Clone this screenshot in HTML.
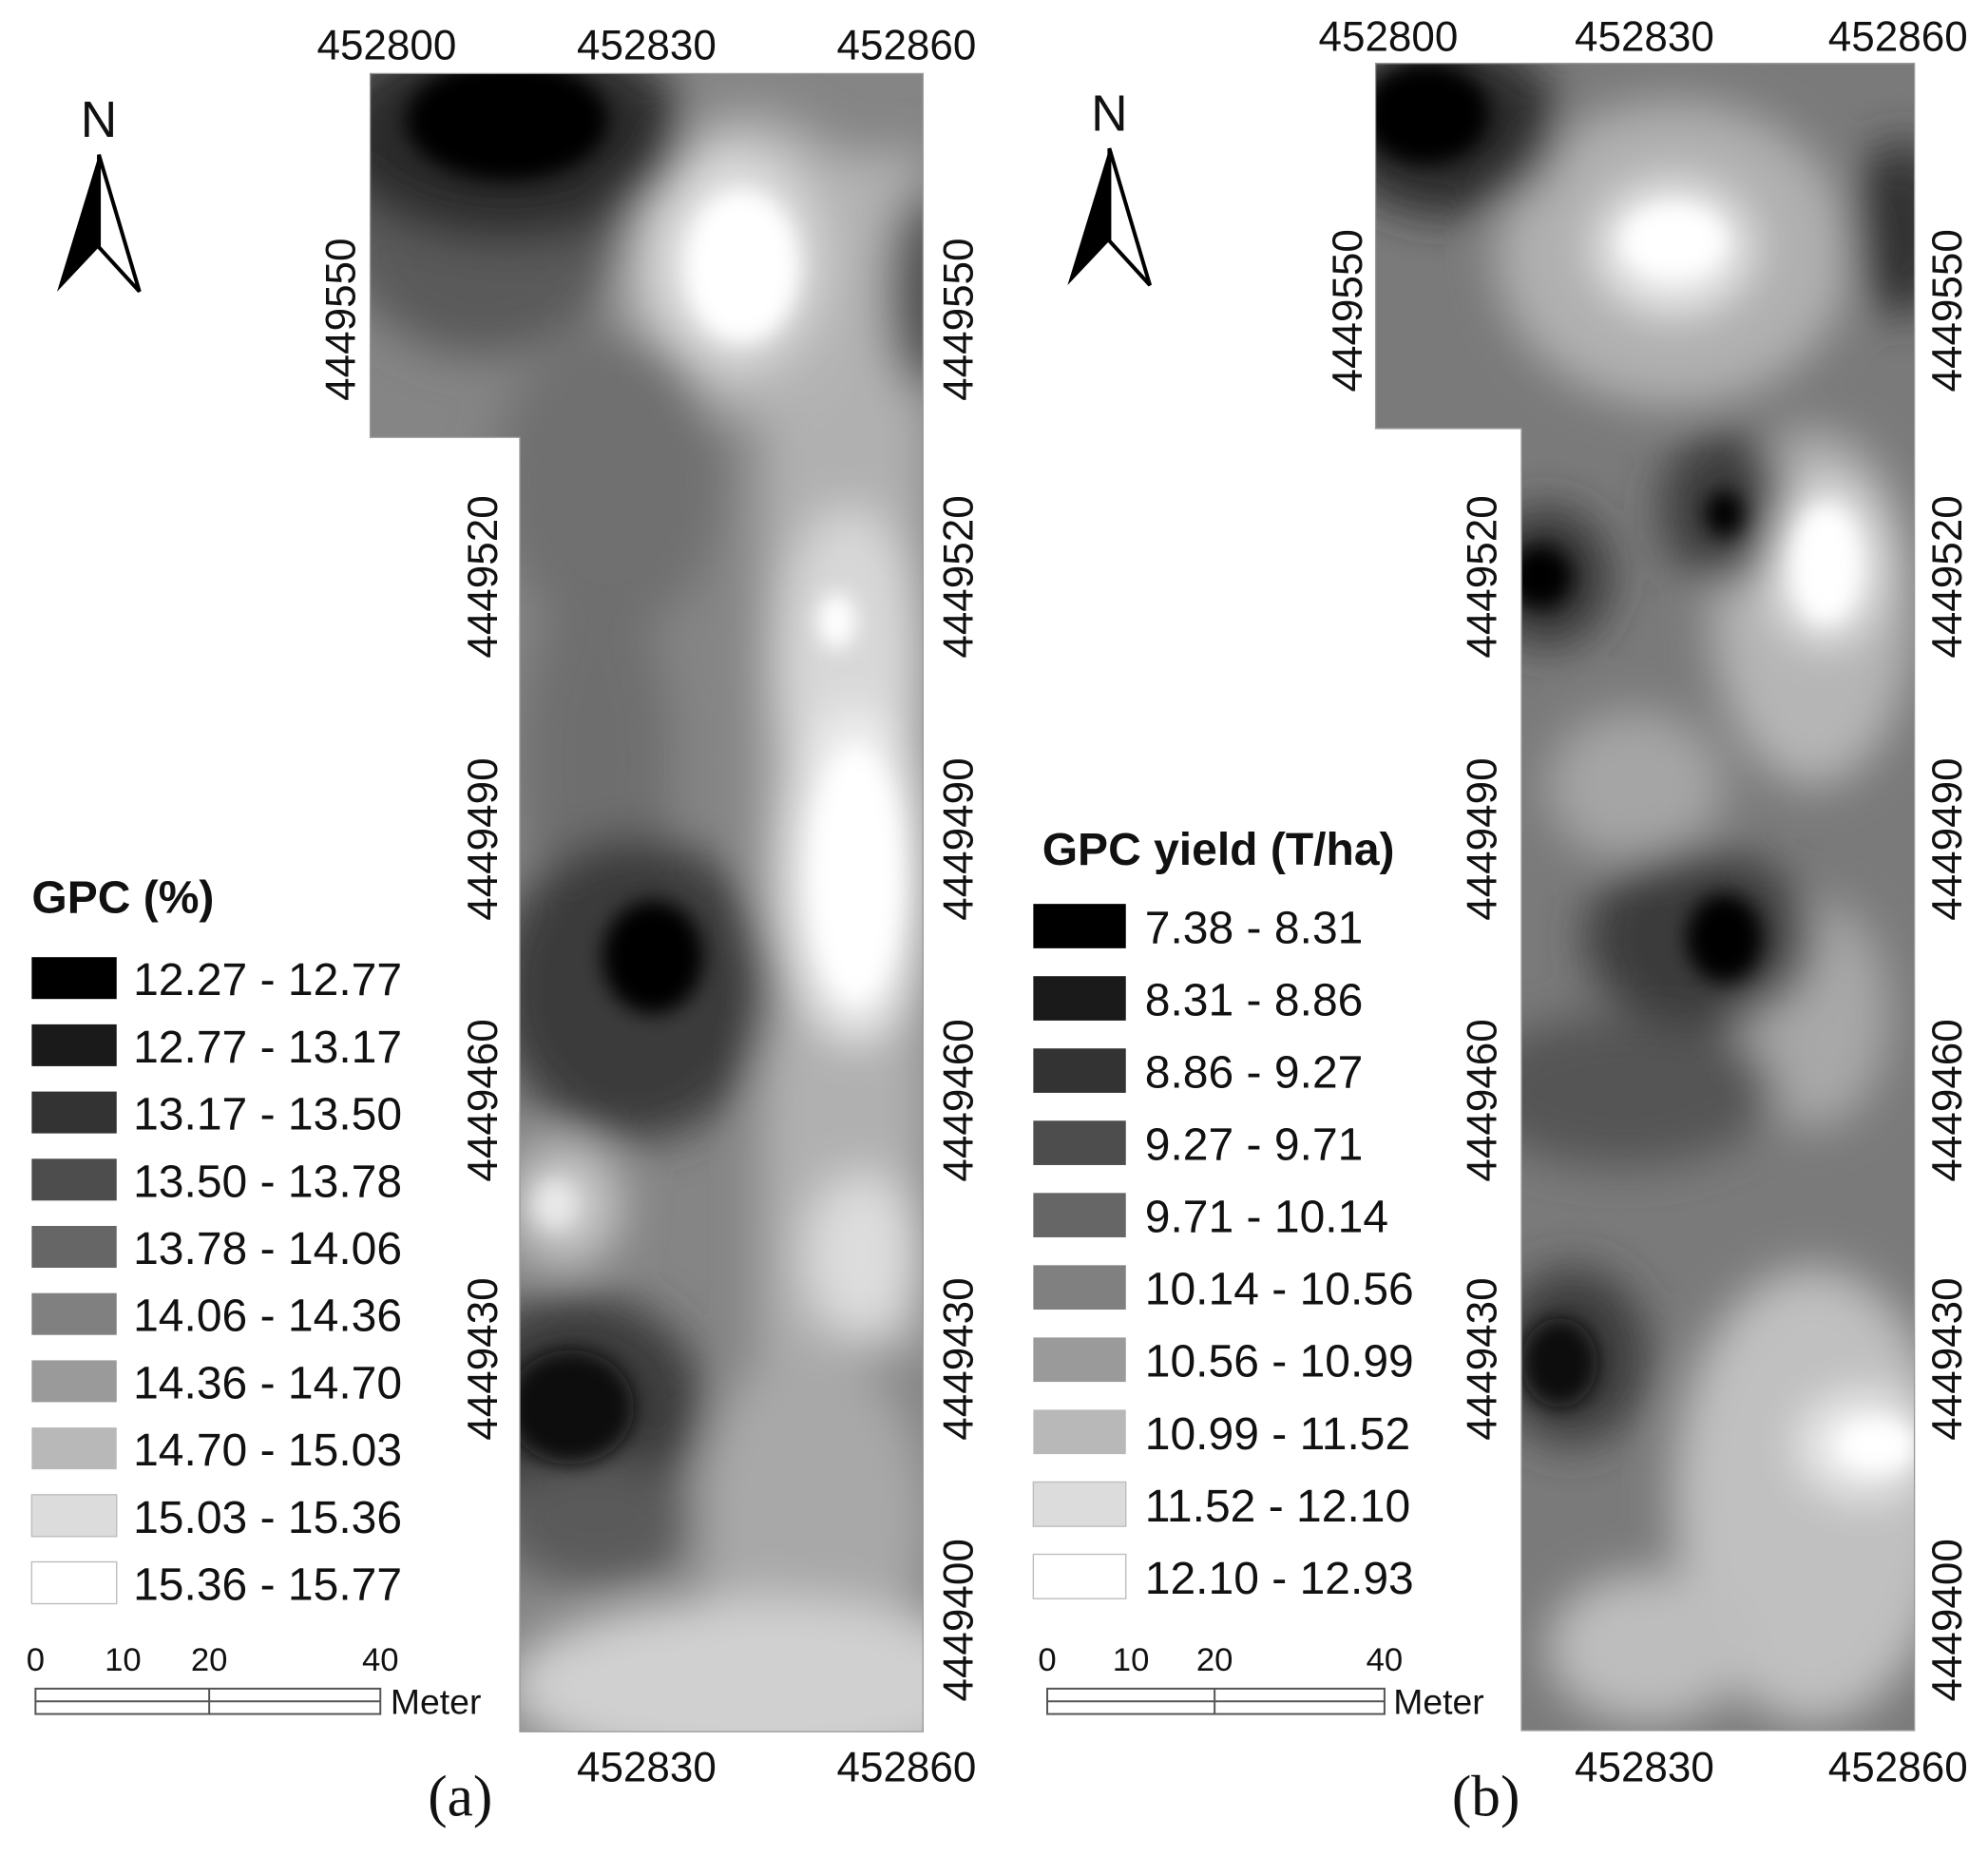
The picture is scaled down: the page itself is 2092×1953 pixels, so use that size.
<!DOCTYPE html>
<html><head><meta charset="utf-8"><style>
html,body{margin:0;padding:0;background:#fff;}
svg{display:block;}
text{font-family:"Liberation Sans",sans-serif;fill:#111;}
</style></head><body>
<svg width="2092" height="1953" viewBox="0 0 1568 1464" preserveAspectRatio="none" xmlns="http://www.w3.org/2000/svg">
<defs>
<filter id="bl" x="-50%" y="-50%" width="200%" height="200%"><feGaussianBlur stdDeviation="18"/></filter>
<filter id="bs" x="-50%" y="-50%" width="200%" height="200%"><feGaussianBlur stdDeviation="8"/></filter>
<clipPath id="ca"><path d="M292,58 H728 V1366 H410 V345 H292 Z"/></clipPath>
<clipPath id="cb"><path d="M1085,50 H1510 V1365 H1200 V338 H1085 Z"/></clipPath>
</defs>

<!-- Map A -->
<g clip-path="url(#ca)">
<rect x="280" y="40" width="460" height="1340" fill="#858585"/>
<g filter="url(#bl)">
<rect x="600" y="120" width="130" height="950" fill="#b0b0b0"/>
<ellipse cx="590" cy="210" rx="100" ry="120" fill="#b5b5b5"/>
<ellipse cx="380" cy="160" rx="120" ry="120" fill="#5a5a5a"/>
<ellipse cx="480" cy="380" rx="90" ry="120" fill="#707070"/>
<ellipse cx="470" cy="600" rx="60" ry="140" fill="#6e6e6e"/>
<ellipse cx="640" cy="1200" rx="90" ry="140" fill="#a8a8a8"/>
<ellipse cx="600" cy="1330" rx="200" ry="70" fill="#d0d0d0"/>
<ellipse cx="730" cy="230" rx="30" ry="80" fill="#505050"/>
<ellipse cx="400" cy="105" rx="140" ry="85" fill="#2a2a2a"/>
<ellipse cx="580" cy="205" rx="65" ry="85" fill="#e0e0e0"/>
<ellipse cx="670" cy="520" rx="55" ry="120" fill="#d8d8d8"/>
<ellipse cx="675" cy="690" rx="55" ry="130" fill="#f2f2f2"/>
<ellipse cx="500" cy="780" rx="110" ry="120" fill="#3a3a3a"/>
<ellipse cx="455" cy="1110" rx="100" ry="90" fill="#3a3a3a"/>
<ellipse cx="470" cy="1200" rx="80" ry="50" fill="#5a5a5a"/>
<ellipse cx="445" cy="950" rx="45" ry="50" fill="#c8c8c8"/>
<ellipse cx="680" cy="990" rx="45" ry="65" fill="#dddddd"/>
</g>
<g filter="url(#bs)">
<ellipse cx="400" cy="95" rx="80" ry="48" fill="#000"/>
<ellipse cx="585" cy="210" rx="45" ry="60" fill="#fff"/>
<ellipse cx="675" cy="690" rx="35" ry="100" fill="#fff"/>
<ellipse cx="660" cy="490" rx="15" ry="22" fill="#fff"/>
<ellipse cx="515" cy="755" rx="40" ry="45" fill="#000"/>
<ellipse cx="450" cy="1110" rx="50" ry="45" fill="#111"/>
<ellipse cx="438" cy="950" rx="18" ry="20" fill="#e8e8e8"/>
</g>
</g>
<path d="M292,58 H728 V1366 H410 V345 H292 Z" fill="none" stroke="#999" stroke-width="1"/>

<!-- Map B -->
<g clip-path="url(#cb)">
<rect x="1075" y="40" width="450" height="1340" fill="#7a7a7a"/>
<g filter="url(#bl)">
<ellipse cx="1320" cy="200" rx="140" ry="120" fill="#b0b0b0"/>
<ellipse cx="1430" cy="480" rx="80" ry="140" fill="#b5b5b5"/>
<ellipse cx="1290" cy="620" rx="70" ry="60" fill="#a5a5a5"/>
<ellipse cx="1430" cy="800" rx="60" ry="90" fill="#a8a8a8"/>
<ellipse cx="1430" cy="1180" rx="110" ry="180" fill="#c0c0c0"/>
<ellipse cx="1300" cy="1300" rx="80" ry="60" fill="#bdbdbd"/>
<ellipse cx="1280" cy="860" rx="120" ry="60" fill="#555"/>
<ellipse cx="1140" cy="100" rx="90" ry="70" fill="#2a2a2a"/>
<ellipse cx="1500" cy="180" rx="40" ry="70" fill="#333"/>
<ellipse cx="1360" cy="400" rx="50" ry="60" fill="#3a3a3a"/>
<ellipse cx="1220" cy="455" rx="50" ry="55" fill="#333"/>
<ellipse cx="1340" cy="740" rx="90" ry="70" fill="#3a3a3a"/>
<ellipse cx="1240" cy="1070" rx="60" ry="70" fill="#3a3a3a"/>
<ellipse cx="1320" cy="195" rx="60" ry="50" fill="#f0f0f0"/>
<ellipse cx="1440" cy="445" rx="40" ry="60" fill="#f4f4f4"/>
<ellipse cx="1470" cy="1140" rx="50" ry="40" fill="#f0f0f0"/>
</g>
<g filter="url(#bs)">
<ellipse cx="1125" cy="90" rx="50" ry="40" fill="#000"/>
<ellipse cx="1320" cy="190" rx="40" ry="28" fill="#fff"/>
<ellipse cx="1440" cy="445" rx="25" ry="45" fill="#fff"/>
<ellipse cx="1360" cy="405" rx="15" ry="18" fill="#000"/>
<ellipse cx="1215" cy="455" rx="25" ry="25" fill="#000"/>
<ellipse cx="1360" cy="740" rx="30" ry="35" fill="#000"/>
<ellipse cx="1230" cy="1075" rx="30" ry="35" fill="#111"/>
<ellipse cx="1480" cy="1140" rx="30" ry="20" fill="#fff"/>
</g>
</g>
<path d="M1085,50 H1510 V1365 H1200 V338 H1085 Z" fill="none" stroke="#999" stroke-width="1"/>

<!-- Axis labels -->
<g font-size="33" text-anchor="middle">
<text x="305" y="47">452800</text><text x="510" y="47">452830</text><text x="715" y="47">452860</text>
<text x="510" y="1405">452830</text><text x="715" y="1405">452860</text>
<text transform="translate(280,252) rotate(-90)">4449550</text>
<text transform="translate(392,455) rotate(-90)">4449520</text>
<text transform="translate(392,662) rotate(-90)">4449490</text>
<text transform="translate(392,868) rotate(-90)">4449460</text>
<text transform="translate(392,1072) rotate(-90)">4449430</text>
<text transform="translate(767,252) rotate(-90)">4449550</text>
<text transform="translate(767,455) rotate(-90)">4449520</text>
<text transform="translate(767,662) rotate(-90)">4449490</text>
<text transform="translate(767,868) rotate(-90)">4449460</text>
<text transform="translate(767,1072) rotate(-90)">4449430</text>
<text transform="translate(767,1278) rotate(-90)">4449400</text>
<text x="1095" y="40">452800</text><text x="1297" y="40">452830</text><text x="1497" y="40">452860</text>
<text x="1297" y="1405">452830</text><text x="1497" y="1405">452860</text>
<text transform="translate(1074,245) rotate(-90)">4449550</text>
<text transform="translate(1180,455) rotate(-90)">4449520</text>
<text transform="translate(1180,662) rotate(-90)">4449490</text>
<text transform="translate(1180,868) rotate(-90)">4449460</text>
<text transform="translate(1180,1072) rotate(-90)">4449430</text>
<text transform="translate(1547,245) rotate(-90)">4449550</text>
<text transform="translate(1547,455) rotate(-90)">4449520</text>
<text transform="translate(1547,662) rotate(-90)">4449490</text>
<text transform="translate(1547,868) rotate(-90)">4449460</text>
<text transform="translate(1547,1072) rotate(-90)">4449430</text>
<text transform="translate(1547,1278) rotate(-90)">4449400</text>
</g>

<!-- North arrows -->
<text x="78" y="108" font-size="40" text-anchor="middle">N</text>
<path d="M78,122 L45,230 L78,195 Z" fill="#000"/>
<path d="M78,122 L110,230 L78,195 Z" fill="#fff" stroke="#000" stroke-width="3"/>
<text x="875" y="103" font-size="40" text-anchor="middle">N</text>
<path d="M875,117 L842,225 L875,190 Z" fill="#000"/>
<path d="M875,117 L907,225 L875,190 Z" fill="#fff" stroke="#000" stroke-width="3"/>

<!-- Legend A -->
<text x="25" y="720" font-size="36" font-weight="bold">GPC (%)</text>
<g font-size="36">
<rect x="25" y="755" width="67" height="33" fill="#000"/><text x="105" y="785">12.27 - 12.77</text>
<rect x="25" y="808" width="67" height="33" fill="#1a1a1a"/><text x="105" y="838">12.77 - 13.17</text>
<rect x="25" y="861" width="67" height="33" fill="#333"/><text x="105" y="891">13.17 - 13.50</text>
<rect x="25" y="914" width="67" height="33" fill="#4d4d4d"/><text x="105" y="944">13.50 - 13.78</text>
<rect x="25" y="967" width="67" height="33" fill="#666"/><text x="105" y="997">13.78 - 14.06</text>
<rect x="25" y="1020" width="67" height="33" fill="#808080"/><text x="105" y="1050">14.06 - 14.36</text>
<rect x="25" y="1073" width="67" height="33" fill="#9a9a9a"/><text x="105" y="1103">14.36 - 14.70</text>
<rect x="25" y="1126" width="67" height="33" fill="#b8b8b8"/><text x="105" y="1156">14.70 - 15.03</text>
<rect x="25" y="1179" width="67" height="33" fill="#dcdcdc" stroke="#bbb"/><text x="105" y="1209">15.03 - 15.36</text>
<rect x="25" y="1232" width="67" height="33" fill="#fff" stroke="#bbb"/><text x="105" y="1262">15.36 - 15.77</text>
</g>
<!-- Legend B -->
<text x="822" y="682" font-size="36" font-weight="bold">GPC yield (T/ha)</text>
<g font-size="36">
<rect x="815" y="713" width="73" height="35" fill="#000"/><text x="903" y="744">7.38 - 8.31</text>
<rect x="815" y="770" width="73" height="35" fill="#1a1a1a"/><text x="903" y="801">8.31 - 8.86</text>
<rect x="815" y="827" width="73" height="35" fill="#333"/><text x="903" y="858">8.86 - 9.27</text>
<rect x="815" y="884" width="73" height="35" fill="#4d4d4d"/><text x="903" y="915">9.27 - 9.71</text>
<rect x="815" y="941" width="73" height="35" fill="#666"/><text x="903" y="972">9.71 - 10.14</text>
<rect x="815" y="998" width="73" height="35" fill="#808080"/><text x="903" y="1029">10.14 - 10.56</text>
<rect x="815" y="1055" width="73" height="35" fill="#9a9a9a"/><text x="903" y="1086">10.56 - 10.99</text>
<rect x="815" y="1112" width="73" height="35" fill="#b8b8b8"/><text x="903" y="1143">10.99 - 11.52</text>
<rect x="815" y="1169" width="73" height="35" fill="#dcdcdc" stroke="#bbb"/><text x="903" y="1200">11.52 - 12.10</text>
<rect x="815" y="1226" width="73" height="35" fill="#fff" stroke="#bbb"/><text x="903" y="1257">12.10 - 12.93</text>
</g>

<!-- Scale bars -->
<g font-size="26" text-anchor="middle">
<text x="28" y="1318">0</text><text x="97" y="1318">10</text><text x="165" y="1318">20</text><text x="300" y="1318">40</text>
<text x="826" y="1318">0</text><text x="892" y="1318">10</text><text x="958" y="1318">20</text><text x="1092" y="1318">40</text>
</g>
<g fill="none" stroke="#555" stroke-width="1.5">
<rect x="28" y="1332" width="272" height="20"/><line x1="28" y1="1342" x2="300" y2="1342"/><line x1="165" y1="1332" x2="165" y2="1352"/>
<rect x="826" y="1332" width="266" height="20"/><line x1="826" y1="1342" x2="1092" y2="1342"/><line x1="958" y1="1332" x2="958" y2="1352"/>
</g>
<text x="308" y="1352" font-size="28">Meter</text>
<text x="1099" y="1352" font-size="28">Meter</text>

<text x="363" y="1432" font-size="46" text-anchor="middle" style="font-family:'Liberation Serif',serif">(a)</text>
<text x="1172" y="1432" font-size="46" text-anchor="middle" style="font-family:'Liberation Serif',serif">(b)</text>
</svg>
</body></html>
